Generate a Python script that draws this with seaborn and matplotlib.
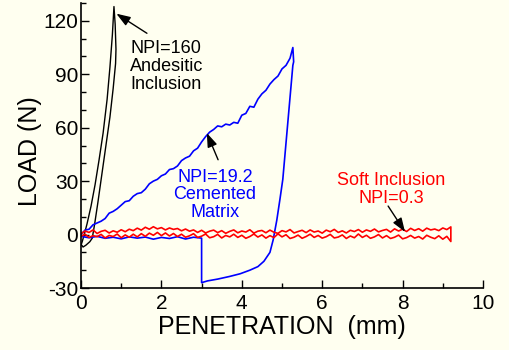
import matplotlib
matplotlib.use("Agg")
import matplotlib.pyplot as plt
from matplotlib.ticker import MultipleLocator
import pandas as pd
import seaborn as sns

# ---------------- data ----------------
# NPI=160 Andesitic inclusion (loading + unloading loop)
black_x = [0.0, 0.03, 0.08, 0.15, 0.25, 0.35, 0.45, 0.55, 0.65, 0.72, 0.78, 0.82,
           0.85, 0.87, 0.86, 0.80, 0.72, 0.62, 0.52, 0.42, 0.34, 0.28, 0.22, 0.12, 0.05, 0.02]
black_y = [-6, -4, 0, 6, 16, 28, 42, 57, 76, 94, 112, 128,
           118, 104, 96, 82, 66, 50, 34, 18, 6, -2, -4, -6, -7, -6]

# NPI=19.2 Cemented matrix (loading, unloading, retraction)
blue_x = [0.0, 0.1, 0.2, 0.3, 0.4, 0.5, 0.6, 0.7, 0.8, 0.9, 1.0, 1.1, 1.2, 1.3, 1.4, 1.5,
          1.6, 1.7, 1.8, 1.9, 2.0, 2.1, 2.2, 2.3, 2.4, 2.5, 2.6, 2.7, 2.8, 2.9, 3.0,
          3.1, 3.2, 3.3, 3.4, 3.5, 3.6, 3.7, 3.8, 3.9, 4.0, 4.1, 4.2, 4.3, 4.4, 4.5, 4.6,
          4.7, 4.8, 4.9, 5.0, 5.1, 5.2, 5.27,
          5.29, 5.27, 5.02, 4.95, 4.87, 4.78, 4.70, 4.55, 4.40, 4.20, 3.96, 3.70, 3.40,
          3.15, 3.0, 3.0,
          2.8, 2.6, 2.4, 2.2, 2.0, 1.8, 1.6, 1.4, 1.2, 1.0, 0.8, 0.6, 0.4, 0.2, 0.0]
blue_y = [0, 2.5, 3, 5.5, 6.5, 7.5, 9, 12, 13, 14.5, 16.5, 18.5, 19, 21.5, 23, 23.5,
          25.5, 28.5, 30, 31, 33, 34, 36.5, 37, 38.5, 41.5, 43, 44, 47, 48.5, 52,
          55, 57.5, 59, 61, 60.5, 62, 61.5, 63, 62.5, 67, 68, 72, 71.5, 76, 79, 81,
          84.5, 87, 89, 93, 95, 99, 105,
          97, 95, 31, 20, 8, -3, -10, -15, -18, -20, -22, -23.5, -25,
          -26, -27, -2,
          -1.5, -2.5, -1.2, -2.2, -1.6, -2.6, -1.4, -2.0, -1.3, -2.4, -1.5, -2.1, -1.0, -1.8, -1.0]

# NPI=0.3 Soft inclusion (noisy trace out to 9.2 mm and back)
red_x_out = [0.0, 0.1, 0.2, 0.3, 0.4, 0.5, 0.6, 0.7, 0.8, 0.9,
             1.0, 1.1, 1.2, 1.3, 1.4, 1.5, 1.6, 1.7, 1.8, 1.9,
             2.0, 2.1, 2.2, 2.3, 2.4, 2.5, 2.6, 2.7, 2.8, 2.9,
             3.0, 3.1, 3.2, 3.3, 3.4, 3.5, 3.6, 3.7, 3.8, 3.9,
             4.0, 4.1, 4.2, 4.3, 4.4, 4.5, 4.6, 4.7, 4.8, 4.9,
             5.0, 5.1, 5.2, 5.3, 5.4, 5.5, 5.6, 5.7, 5.8, 5.9,
             6.0, 6.1, 6.2, 6.3, 6.4, 6.5, 6.6, 6.7, 6.8, 6.9,
             7.0, 7.1, 7.2, 7.3, 7.4, 7.5, 7.6, 7.7, 7.8, 7.9,
             8.0, 8.1, 8.2, 8.3, 8.4, 8.5, 8.6, 8.7, 8.8, 8.9,
             9.0, 9.1, 9.2]
red_y_out = [0.5, 2.0, 1.2, 2.6, 0.6, 1.8, 2.4, 0.9, 2.1, 1.3,
             2.7, 1.6, 3.0, 2.2, 3.6, 2.5, 4.1, 3.0, 4.4, 3.2,
             3.9, 2.6, 3.7, 2.9, 3.4, 2.1, 3.1, 1.9, 2.6, 1.2,
             2.4, 0.9, 1.9, 2.5, 1.1, 2.2, 0.7, 1.8, 2.6, 1.0,
             2.0, 1.4, 2.7, 0.8, 1.9, 2.3, 1.0, 2.5, 1.3, 0.7,
             2.2, 1.5, 2.8, 0.9, 1.7, 2.4, 1.1, 2.6, 1.4, 2.0,
             0.8, 2.5, 1.6, 2.9, 1.2, 2.1, 0.9, 2.4, 1.7, 2.8,
             1.3, 2.6, 1.8, 3.1, 1.5, 2.3, 2.9, 1.4, 3.2, 2.0,
             3.0, 1.7, 3.5, 2.3, 3.3, 1.9, 3.6, 2.6, 3.1, 2.2,
             3.7, 2.8, 4.3]
red_x_back = [9.2, 9.1, 9.0, 8.9, 8.8, 8.7, 8.6, 8.5, 8.4, 8.3,
              8.2, 8.1, 8.0, 7.9, 7.8, 7.7, 7.6, 7.5, 7.4, 7.3,
              7.2, 7.1, 7.0, 6.9, 6.8, 6.7, 6.6, 6.5, 6.4, 6.3,
              6.2, 6.1, 6.0, 5.9, 5.8, 5.7, 5.6, 5.5, 5.4, 5.3,
              5.2, 5.1, 5.0, 4.9, 4.8, 4.7, 4.6, 4.5, 4.4, 4.3,
              4.2, 4.1, 4.0, 3.9, 3.8, 3.7, 3.6, 3.5, 3.4, 3.3,
              3.2, 3.1, 3.0, 2.9, 2.8, 2.7, 2.6, 2.5, 2.4, 2.3,
              2.2, 2.1, 2.0, 1.9, 1.8, 1.7, 1.6, 1.5, 1.4, 1.3,
              1.2, 1.1, 1.0, 0.9, 0.8, 0.7, 0.6, 0.5, 0.4, 0.3,
              0.2, 0.1, 0.0]
red_y_back = [-3.9, -1.0, -2.6, -0.7, -2.3, -1.5, -0.4, -2.5, -1.1, -2.0,
              -0.5, -1.7, -2.4, -0.3, -1.5, -2.2, -0.6, -1.9, 0.0, -1.3,
              -2.1, -0.4, -1.6, 0.3, -1.8, -0.8, -2.2, -0.2, -1.4, -1.9,
              0.1, -1.2, -2.0, -0.5, -1.6, 0.2, -1.1, -2.1, -0.3, -1.5,
              -2.2, -0.1, -1.3, 0.4, -1.7, -0.6, -2.0, -0.2, -1.4, 0.3,
              -1.1, -2.1, -0.4, -1.6, 0.2, -1.3, -0.5, -1.9, 0.1, -1.2,
              -1.8, 0.3, -0.9, -1.6, 0.5, -0.7, -1.5, 0.2, -1.1, 0.6,
              -0.8, 0.9, -0.6, 1.2, -0.4, 0.8, -1.0, 0.5, -1.3, 0.2,
              -1.5, -0.2, -1.8, 0.3, -1.1, -0.5, -1.9, 0.1, -1.2, -0.6,
              -1.6, 0.2, -1.0]

x_ticks = [0, 2, 4, 6, 8, 10]
y_ticks = [-30, 0, 30, 60, 90, 120]

# ---------------- style ----------------
sns.set_theme(style="ticks")
plt.rcParams["font.family"] = ["Liberation Sans", "DejaVu Sans"]
plt.rcParams["axes.unicode_minus"] = False

BG = "#FFFFF0"
fig = plt.figure(figsize=(5.1, 3.5), dpi=100, facecolor=BG)
ax = fig.add_axes([81 / 510, 1 - 288 / 350, (483 - 81) / 510, (288 - 3) / 350])
ax.set_facecolor(BG)

black_df = pd.DataFrame({"x": black_x, "y": black_y})
blue_df = pd.DataFrame({"x": blue_x, "y": blue_y})
red_df = pd.DataFrame({"x": red_x_out + red_x_back, "y": red_y_out + red_y_back})

sns.lineplot(data=black_df, x="x", y="y", sort=False, estimator=None, color="black",
             lw=1.0, ax=ax)
sns.lineplot(data=blue_df, x="x", y="y", sort=False, estimator=None, color="#0000FF",
             lw=1.2, ax=ax)
sns.lineplot(data=red_df, x="x", y="y", sort=False, estimator=None, color="#FF0000",
             lw=1.2, ax=ax)

ax.set_xlim(0, 10)
ax.set_ylim(-30, 130)
ax.set_xticks(x_ticks)
ax.set_yticks(y_ticks)
ax.xaxis.set_minor_locator(MultipleLocator(1))
ax.yaxis.set_minor_locator(MultipleLocator(10))
ax.tick_params(which="major", direction="in", length=6, width=1, colors="black",
               labelsize=15)
ax.tick_params(which="minor", direction="in", length=3.5, width=1, colors="black")
ax.tick_params(axis="y", which="major", pad=2)
ax.tick_params(axis="x", which="major", pad=4)
for s in ("top", "right"):
    ax.spines[s].set_visible(False)
for s in ("left", "bottom"):
    ax.spines[s].set_color("black")
    ax.spines[s].set_linewidth(1.2)

ax.set_xlabel("PENETRATION  (mm)", fontsize=18, color="black", labelpad=2)
ax.set_ylabel("LOAD (N)", fontsize=18, color="black")
ax.yaxis.set_label_coords(-0.097, 0.48)

arrow = dict(arrowstyle="-|>,head_length=0.7,head_width=0.25", color="black", lw=1,
             shrinkA=0, shrinkB=0)

ax.text(1.22, 109, "NPI=160\nAndesitic\nInclusion", fontsize=13, color="black",
        ha="left", va="top", linespacing=1.05)
ax.annotate("", xy=(0.88, 124), xytext=(1.64, 113), arrowprops=arrow)

ax.text(3.33, 37, "NPI=19.2\nCemented\nMatrix", fontsize=13, color="#0000FF",
        ha="center", va="top", linespacing=1.05)
ax.annotate("", xy=(3.13, 57), xytext=(3.41, 42), arrowprops=arrow)

ax.text(7.71, 35, "Soft Inclusion\nNPI=0.3", fontsize=13, color="#FF0000",
        ha="center", va="top", linespacing=1.05)
ax.annotate("", xy=(8.06, 1.5), xytext=(7.64, 16), arrowprops=arrow)

fig.savefig("out.png", dpi=100, facecolor=BG)
